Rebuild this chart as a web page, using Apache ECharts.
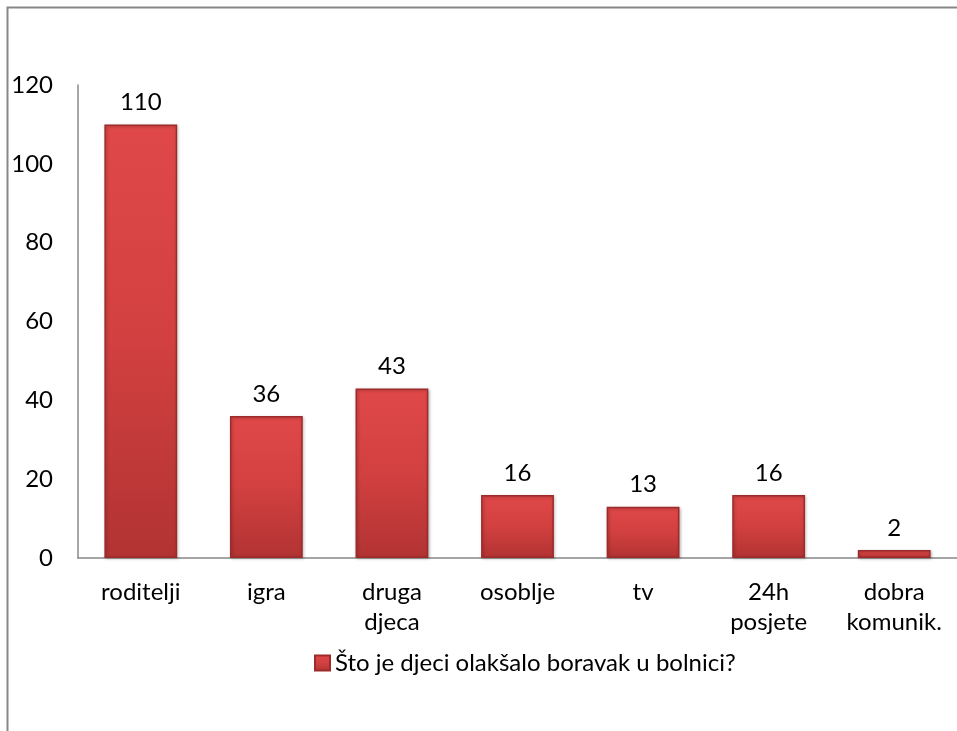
<!DOCTYPE html>
<html>
<head>
<meta charset="utf-8">
<script src="https://cdn.jsdelivr.net/npm/echarts@6/dist/echarts.min.js"></script>
<style>
html,body{margin:0;padding:0;background:#fff;}
#main{width:957px;height:731px;}
</style>
</head>
<body>
<div id="main"></div>
<script>
const categories = ['roditelji', 'igra', 'druga\ndjeca', 'osoblje', 'tv', '24h\nposjete', 'dobra\nkomunik.'];
const values = [110, 36, 43, 16, 13, 16, 2];
const yTicks = [0, 20, 40, 60, 80, 100, 120];
const seriesName = 'Što je djeci olakšalo boravak u bolnici?';

const FONT = 'Lato';
const FS = 24;
const chart = echarts.init(document.getElementById('main'));
chart.setOption({
  animation: false,
  backgroundColor: '#fff',
  textStyle: { fontFamily: FONT },
  graphic: [{
    type: 'rect',
    shape: { x: 7.5, y: 7.5, width: 1000, height: 800 },
    style: { fill: 'none', stroke: '#878787', lineWidth: 2 },
    silent: true
  }],
  grid: { left: 78, right: -5, top: 85, bottom: 173, containLabel: false },
  legend: {
    data: [seriesName],
    bottom: 51,
    left: 309,
    itemWidth: 15,
    itemHeight: 15,
    itemGap: 4,
    icon: 'rect',
    textStyle: { fontFamily: FONT, fontSize: FS, color: '#000' }
  },
  xAxis: {
    type: 'category',
    data: categories,
    axisLine: { show: true, lineStyle: { color: '#888', width: 1.5 } },
    axisTick: { show: false },
    axisLabel: { fontFamily: FONT, fontSize: FS, color: '#000', margin: 19, lineHeight: 30, interval: 0 }
  },
  yAxis: {
    type: 'value',
    min: yTicks[0],
    max: yTicks[yTicks.length - 1],
    interval: 20,
    axisLine: { show: true, lineStyle: { color: '#888', width: 1.5 } },
    axisTick: { show: false },
    splitLine: { show: false },
    axisLabel: { fontFamily: FONT, fontSize: FS, color: '#000', margin: 25 }
  },
  series: [{
    name: seriesName,
    type: 'bar',
    data: values,
    barWidth: '58%',
    itemStyle: {
      color: new echarts.graphic.LinearGradient(0, 0, 0, 1, [
        { offset: 0, color: '#e04848' },
        { offset: 0.5, color: '#d24040' },
        { offset: 1, color: '#b23333' }
      ]),
      borderColor: '#9e2b2b',
      borderWidth: 1.5,
      shadowColor: 'rgba(0,0,0,0.25)',
      shadowBlur: 3,
      shadowOffsetX: 1,
      shadowOffsetY: 1
    },
    label: {
      show: true,
      position: 'top',
      distance: 10,
      fontFamily: FONT,
      fontSize: FS,
      color: '#000'
    }
  }]
});
</script>
</body>
</html>
